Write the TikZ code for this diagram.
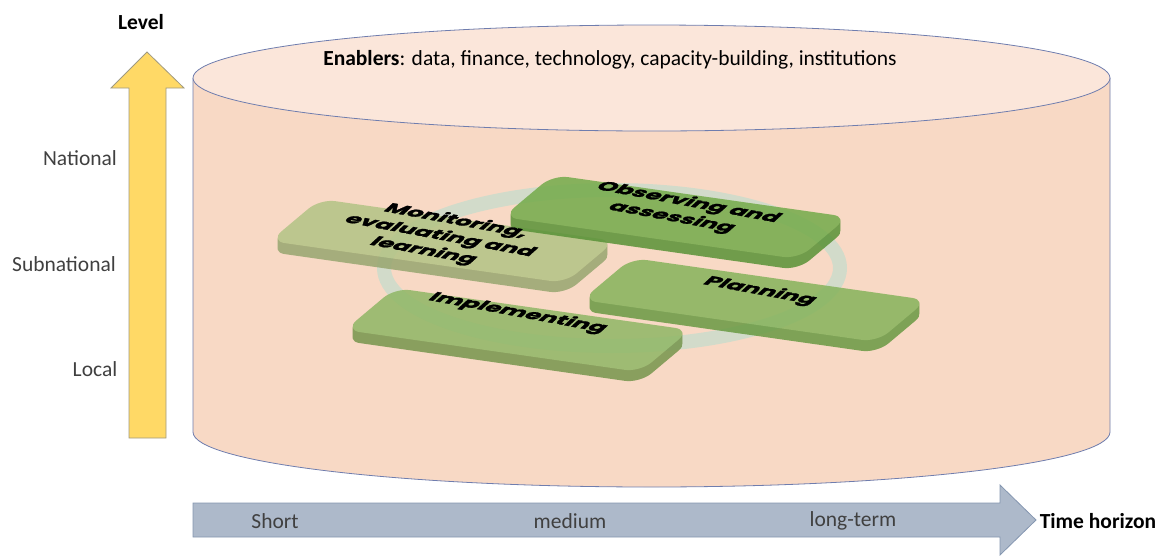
\documentclass[tikz,border=0pt]{standalone}
\usepackage{fontspec}
\setmainfont{Carlito}
\newfontfamily\tilefont{Poppins}[FakeBold=1.5]
\usetikzlibrary{calc}
\definecolor{cylfill}{HTML}{F8D9C5}
\definecolor{cyltop}{HTML}{FBE6DA}
\definecolor{cylline}{HTML}{6F7DAE}
\definecolor{yel}{HTML}{FFD966}
\definecolor{yelline}{HTML}{A09A80}
\definecolor{blu}{HTML}{ADB9CA}
\definecolor{bluline}{HTML}{8496B0}
\definecolor{ringc}{HTML}{B9DDCE}
\definecolor{txtgray}{HTML}{404040}
\definecolor{montop}{HTML}{B3C385}
\definecolor{monside}{HTML}{98A670}
\definecolor{obstop}{HTML}{74AB4B}
\definecolor{obsside}{HTML}{5A9238}
\definecolor{plantop}{HTML}{86B35C}
\definecolor{planside}{HTML}{6A9A44}
\definecolor{imptop}{HTML}{90B766}
\definecolor{impside}{HTML}{77964E}
\newcommand\drawtile[5]{%
  \coordinate (#1-a) at (#2,-#3);
  \coordinate (#1-b) at ($(#1-a)+(295,-42)$);
  \coordinate (#1-d) at ($(#1-a)+(-50,-42)$);
  \coordinate (#1-c) at ($(#1-b)+(-50,-42)$);
  \begin{scope}[transparency group, opacity=0.86]
  \foreach \s in {1,...,11}{
    \fill[#5, rounded corners=15] ($(#1-a)+(0,-\s)$) -- ($(#1-b)+(0,-\s)$) -- ($(#1-c)+(0,-\s)$) -- ($(#1-d)+(0,-\s)$) -- cycle;}
  \fill[#4, rounded corners=15] (#1-a) -- (#1-b) -- (#1-c) -- (#1-d) -- cycle;
  \end{scope}
}
\begin{document}
\begin{tikzpicture}[x=1pt,y=1pt,
  lbl/.style={font=\fontsize{21.5}{25}\selectfont, inner sep=0pt, text=txtgray},
  blbl/.style={font=\bfseries\fontsize{21.5}{25}\selectfont, inner sep=0pt, text=black},
  tiletext/.style={font=\tilefont\bfseries\fontsize{17}{22}\selectfont, align=center, inner sep=0pt,
     cm={1.40,-0.26,0.75,0.68,(0,0)}}]
\useasboundingbox (0,0) rectangle (1159,-555);
% cylinder
\fill[cylfill] (193,-78) -- (193,-432) arc[start angle=180,end angle=360,x radius=458.5,y radius=55] -- (1110,-78) -- cycle;
\draw[cylline, line width=0.8] (193,-78) -- (193,-432) arc[start angle=180,end angle=360,x radius=458.5,y radius=55] -- (1110,-78);
\filldraw[fill=cyltop, draw=cylline, line width=0.8] (651.5,-78) ellipse[x radius=458.5, y radius=53];
\node[blbl, font=\fontsize{21.5}{25}\selectfont] (enab) at (610,-60) {\textbf{Enablers}: data, finance, technology, capacity-building, institutions};
% ring
\draw[ringc, line width=14, opacity=0.6] (612,-268) ellipse[x radius=228, y radius=78];
% tiles
\drawtile{imp}{395}{288}{imptop}{impside}
\drawtile{mon}{320}{199}{montop}{monside}
\drawtile{plan}{632}{258}{plantop}{planside}
\drawtile{obs}{553}{175}{obstop}{obsside}
\node[tiletext] (impt) at (518,-313) {Implementing};
\node[tiletext] (mont) at (440,-236) {Monitoring,\\evaluating and\\learning};
\node[tiletext] (plant) at (760,-291) {Planning};
\node[tiletext] (obst) at (680,-210) {Observing and\\assessing};
% level arrow
\filldraw[fill=yel, draw=yelline, line width=0.8] (129,-438) -- (129,-88) -- (111,-88) -- (147,-52) -- (184,-88) -- (166,-88) -- (166,-438) -- cycle;
\node[blbl] (level) at (141,-22) {Level};
\node[lbl] (nat) at (80,-158) {National};
\node[lbl] (sub) at (64,-264) {Subnational};
\node[lbl] (loc) at (95,-369) {Local};
% time arrow
\filldraw[fill=blu, draw=bluline, line width=0.8] (193,-503) -- (1000,-503) -- (1000,-485) -- (1036,-520) -- (1000,-555) -- (1000,-537) -- (193,-537) -- cycle;
\node[lbl] (short) at (275,-521) {Short};
\node[lbl] (med) at (570,-521) {medium};
\node[lbl] (long) at (853,-521) {long-term};
\node[blbl] (time) at (1098,-521) {Time horizon};
\end{tikzpicture}
\end{document}
